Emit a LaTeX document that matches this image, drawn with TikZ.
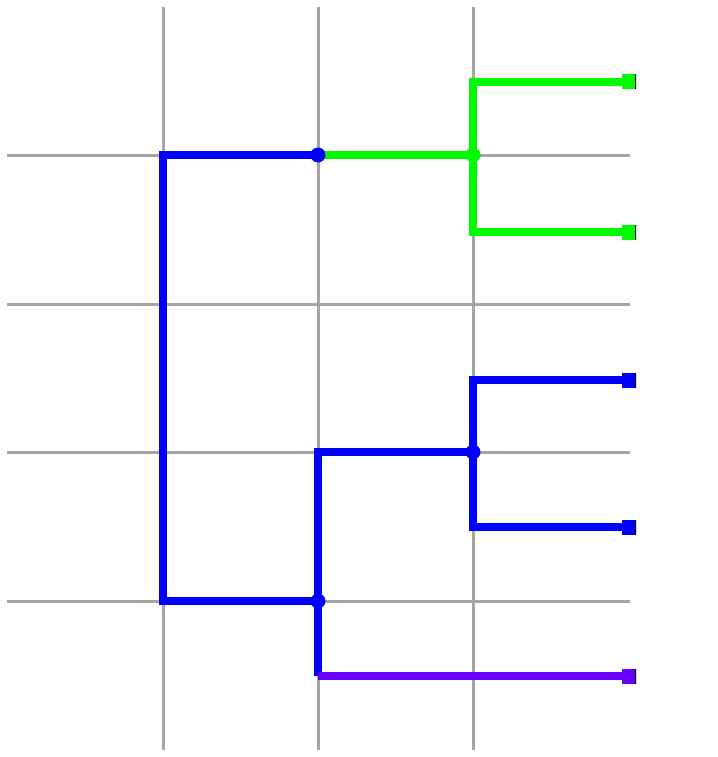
\documentclass[tikz,border=0pt]{standalone}
\usepackage{xcolor}
\usepackage{tikz}
\usetikzlibrary{arrows.meta,shapes}
\definecolor{treeblue}{RGB}{0,0,255}
\definecolor{treegreen}{RGB}{0,250,0}
\definecolor{treeviolet}{RGB}{102,0,255}
\definecolor{gridgray}{RGB}{165,165,165}

\begin{document}
\begin{tikzpicture}[x=1pt,y=-1pt,
joint/.style={circle,fill=#1,inner sep=0pt,minimum size=15pt},
leaf/.style={rectangle,fill=#1,inner sep=0pt,minimum width=14pt,minimum height=15pt,
  path picture={\draw[black,line width=2.5pt](path picture bounding box.north east)--(path picture bounding box.south east);}},
branch/.style={line width=8pt,color=#1}]
\useasboundingbox(0,0)rectangle(717,757);
\fill[white](0,0)rectangle(717,757);
%grid
\draw[gridgray,line width=3pt]
(163,7)--(163,750) (318,7)--(318,750) (473,7)--(473,750)
(7,155)--(630,155) (7,304)--(630,304) (7,452)--(630,452) (7,601)--(630,601);
\coordinate(top)at(163,155);
\coordinate(bottom)at(163,601);
\coordinate(upper)at(318,155);
\coordinate(lower)at(318,601);
\coordinate(greenfork)at(473,155);
\coordinate(bluefork)at(473,452);
\coordinate(lowerfork)at(318,452);
\coordinate(greenup)at(629,82);
\coordinate(greendown)at(629,232);
\coordinate(blueup)at(629,380);
\coordinate(bluedown)at(629,527);
\coordinate(violetleaf)at(629,676);
%branches
\draw[branch=treeblue](upper)--(top)--(bottom)--(lower);
\draw[branch=treegreen](upper)--(greenfork);
\draw[branch=treegreen](greenup)-|(greenfork)|-(greendown);
\draw[branch=treeblue](bluefork)--(lowerfork)--(318,676);
\draw[branch=treeblue](blueup)-|(bluefork)|-(bluedown);
\draw[branch=treeviolet](318,676)--(violetleaf);
%joints and leaves
\node[joint=treeblue](upperdot)at(upper){};
\node[joint=treegreen](greendot)at(greenfork){};
\node[joint=treeblue](lowerdot)at(lower){};
\node[joint=treeblue](bluedot)at(bluefork){};
\node[leaf=treegreen](greenupbox)at(greenup){};
\node[leaf=treegreen](greendownbox)at(greendown){};
\node[leaf=treeblue](blueupbox)at(blueup){};
\node[leaf=treeblue](bluedownbox)at(bluedown){};
\node[leaf=treeviolet](violetbox)at(violetleaf){};
\end{tikzpicture}
\end{document}
